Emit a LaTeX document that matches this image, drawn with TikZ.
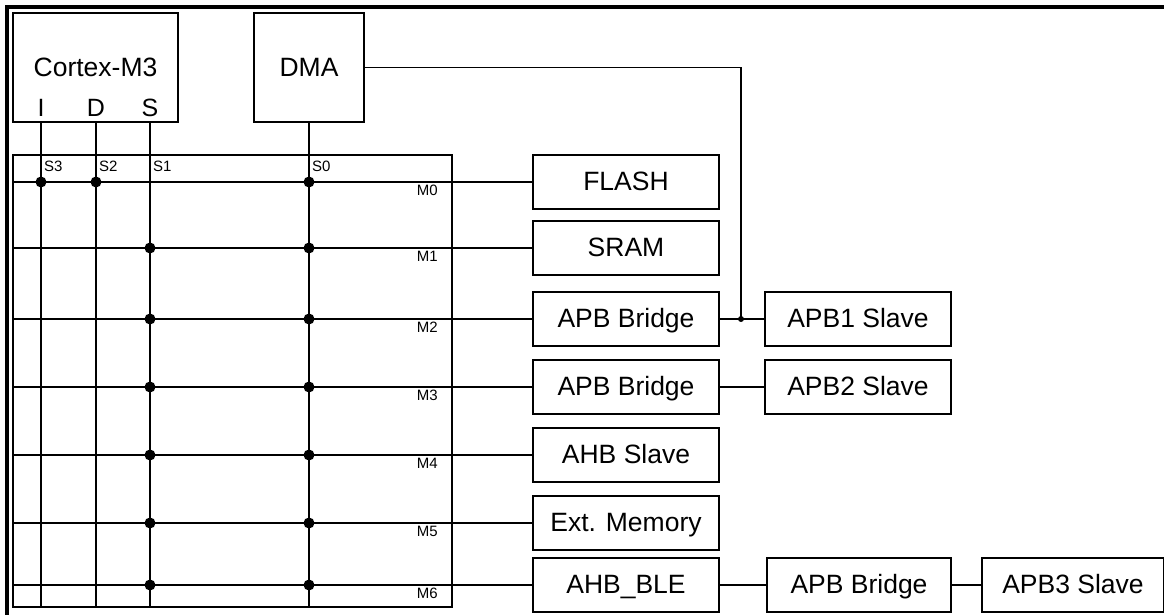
\documentclass[tikz,border=0pt]{standalone}
\usepackage{fontspec}
\setmainfont{Liberation Sans}
\usetikzlibrary{positioning}

\begin{document}
\begin{tikzpicture}[
    x=1pt, y=-1pt,
    node distance=44pt,
    unit/.style={draw, line width=2pt, minimum width=#1, minimum height=54pt,
                 inner sep=0pt, text height=19pt, text depth=2pt,
                 font=\fontsize{26.5}{30}\selectfont},
    unit/.default=186pt,
    core/.style={draw, line width=2pt, minimum height=109pt, inner sep=0pt,
                 font=\fontsize{26.5}{30}\selectfont},
    port/.style={inner sep=0pt, font=\fontsize{25}{28}\selectfont},
    tag/.style={inner sep=2pt, font=\fontsize{15}{17}\selectfont},
    bus/.style={line width=1.4pt}
  ]
    \useasboundingbox (0,0) rectangle (1164,615);
    \draw[line width=3.5pt] (7,615) -- (7,7) -- (1164,7);

    % masters
    \node[core, minimum width=165pt] (cpu) at (95.5,67.5) {Cortex-M3};
    \node[core, minimum width=110pt] (dma) at (309,67.5) {DMA};
    \node[port] (pI) at (41,108) {I};
    \node[port] (pD) at (96,108) {D};
    \node[port] (pS) at (150,108) {S};

    % bus matrix
    \node[draw, line width=2pt, minimum width=439pt, minimum height=452pt] (mtx) at (232.5,381) {};
    \node[tag, anchor=west] (s3) at (42,166) {S3};
    \node[tag, anchor=west] (s2) at (97,166) {S2};
    \node[tag, anchor=west] (s1) at (151,166) {S1};
    \node[tag, anchor=west] (s0) at (310,166) {S0};

    % slaves
    \node[unit] (flash)  at (626,182) {FLASH};
    \node[unit] (sram)   at (626,248) {SRAM};
    \node[unit] (brA)    at (626,319) {APB Bridge};
    \node[unit] (brB)    at (626,387) {APB Bridge};
    \node[unit] (ahbs)   at (626,455) {AHB Slave};
    \node[unit] (extmem) at (626,523) {Ext. Memory};
    \node[unit] (ahbble) at (626,585) {AHB\_BLE};
    \node[unit, right=of brA] (apb1) {APB1 Slave};
    \node[unit, right=of brB] (apb2) {APB2 Slave};
    \node[unit=184pt, right=46pt of ahbble] (brC) {APB Bridge};
    \node[unit=182pt, right=29pt of brC] (apb3) {APB3 Slave};

    \foreach \y/\m in {182/0, 248/1, 319/2, 387/3, 455/4, 523/5, 585/6}
      \node[tag, anchor=north east] (m\m) at (440,\y+1) {M\m};

    % vertical buses
    \draw[bus] (pI |- cpu.south) -- (pI |- mtx.south);
    \draw[bus] (pD |- cpu.south) -- (pD |- mtx.south);
    \draw[bus] (pS |- cpu.south) -- (pS |- mtx.south);
    \draw[bus] (dma.south) -- (dma |- mtx.south);

    % horizontal buses
    \foreach \s in {flash, sram, brA, brB, ahbs, extmem, ahbble}
      \draw[bus] (mtx.west |- \s) -- (\s.west);
    \foreach \s in {sram, brA, brB, ahbs, extmem, ahbble} {
      \fill (pS |- \s) circle (5.5pt);
      \fill (dma |- \s) circle (5.5pt);
    }
    \fill (pI |- flash) circle (5.5pt);
    \fill (pD |- flash) circle (5.5pt);
    \fill (dma |- flash) circle (5.5pt);

    % bridges
    \draw[bus] (brA) -- (apb1);
    \draw[bus] (brB) -- (apb2);
    \draw[bus] (ahbble) -- (brC);
    \draw[bus] (brC) -- (apb3);
    \coordinate (tap) at (741,319);
    \draw[bus] (dma.east) -| (tap);
    \fill (tap) circle (3pt);
\end{tikzpicture}
\end{document}
